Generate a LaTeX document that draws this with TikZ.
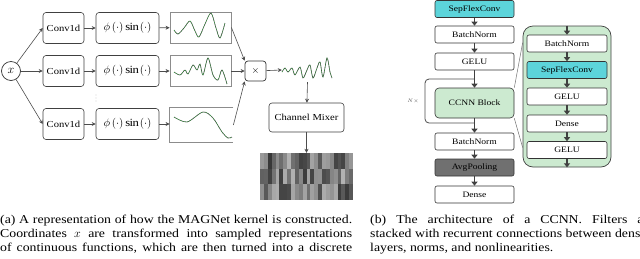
\documentclass[tikz,border=0pt]{standalone}
\usepackage{fontspec}
\setmainfont[FakeStretch=1.15]{Liberation Serif}
\usetikzlibrary{arrows.meta,calc}
\definecolor{flexcyan}{RGB}{92,212,218}
\definecolor{blockgreen}{RGB}{204,234,208}
\definecolor{poolgray}{RGB}{112,112,112}
\definecolor{wavegreen}{RGB}{60,170,70}
\begin{document}
\begin{tikzpicture}[x=1pt, y=-1pt,
    fbox/.style={draw=black!75, fill=white, rounded corners=3pt, line width=0.6pt, minimum height=31pt, inner sep=0pt, font=\fontsize{9.2}{11}\selectfont},
    plotbox/.style={draw=black!45, line width=0.8pt, minimum width=61pt, minimum height=31pt, inner sep=0pt},
    larr/.style={-{Stealth[length=4pt,width=4pt]}, draw=black!70, line width=0.6pt},
    layer/.style={draw=black!80, fill=white, rounded corners=2pt, line width=0.6pt, minimum width=79pt, minimum height=17pt, inner sep=0pt, font=\fontsize{8.3}{10}\selectfont},
    rarr/.style={-{Triangle[length=4pt,width=6pt]}, draw=black!75, line width=1.4pt},
    wave/.style={black!75, line width=0.6pt, postaction={draw=wavegreen, line width=0.5pt, dash pattern=on 1.2pt off 1.2pt}},
    zoomline/.style={draw=black!55, line width=0.5pt},
    loopline/.style={draw=black!70, line width=0.8pt, rounded corners=4pt},
    caption/.style={anchor=north west, inner sep=0pt, align=left, font=\fontsize{12}{14}\selectfont}
]
\useasboundingbox (0,0) rectangle (640,258);
\clip (0,0) rectangle (640,258);

% MAGNet kernel
\node[draw=black!80, circle, minimum size=19pt, inner sep=0pt, line width=0.7pt, font=\large] (x) at (11,71) {$x$};
\foreach \i/\y in {1/28,2/71,3/124} {
  \node[fbox, minimum width=41pt] (c\i) at (63.5,\y) {Conv1d};
  \node[fbox, minimum width=63pt, font=\fontsize{11}{13}\selectfont] (p\i) at (127.5,\y) {$\phi\left(\cdot\right)\sin\left(\cdot\right)$};
  \draw[larr] (x) -- (c\i.west);
  \draw[larr] (c\i) -- (p\i);
}
\foreach \d in {95,98,101}
  \fill[black!50] (96,\d) circle (0.45pt);

\node[plotbox] (f1) at (200.5,27.5) {};
\node[plotbox] (f2) at (200.5,71) {};
\node[plotbox, draw=none, minimum width=63pt, minimum height=34pt] (f3) at (201.5,125) {};
\draw[black!45, line width=0.8pt] (f3.north east) -- (f3.north west) -- (f3.south west) -- (f3.south east);
\draw[wave] plot[smooth] coordinates {(174,30) (178,34) (184,28) (190,21) (195,31) (199,37) (205,24) (211,13) (216,28) (220,38) (225,23)};
\draw[wave] plot[smooth] coordinates {(174,72) (180,75) (185,70) (188,74) (193,65) (197,70) (200,64) (203,75) (208,58) (213,75) (218,80) (222,70) (227,84)};
\draw[wave] plot[smooth] coordinates {(174,117) (187,122) (203,112) (213,118) (222,132) (228,138) (232,137)};
\draw[larr] (p1) -- (f1);
\draw[larr] (p2) -- (f2);
\draw[larr] (p3.east) -- (p3.east -| f3.west);

\node[draw=black!80, rounded corners=3pt, minimum width=21pt, minimum height=20pt, inner sep=0pt, line width=0.7pt] (mul) at (255.5,71) {$\times$};
\draw[larr] (f1.east) -- (mul.north west);
\draw[larr] (f2) -- (mul);
\draw[larr] (f3.east) -- (mul.south west);

\node[minimum width=51pt, minimum height=24pt, inner sep=0pt] (sig) at (307.5,70) {};
\draw[wave] plot[smooth] coordinates {(282,72) (285,68) (288,72) (292,68) (295,75) (300,67) (303,78) (307,70) (310,65) (313,78) (317,68) (320,62) (323,77) (327,58) (330,72) (332,78)};
\draw[larr] (mul) -- (sig.west);

\node[fbox, minimum width=75pt, minimum height=29pt] (mix) at (306.5,117.5) {Channel Mixer};
\draw[larr] (sig.south) -- (mix);

\pgfmathsetseed{11}
\foreach \r in {0,1,2}
  \foreach \c in {0,...,23} {
    \pgfmathrandominteger{\g}{30}{78}
    \fill[black!\g] ({260+\c*3.875},{153+\r*15.67}) rectangle ++(3.875,15.67);
  }
\node[minimum width=93pt, minimum height=47pt, inner sep=0pt] (heat) at (306.5,176.5) {};
\draw[larr] (mix) -- (heat);

% CCNN
\node[layer, fill=flexcyan] (sfc) at (474.5,9) {SepFlexConv};
\node[layer] (bn1) at (474.5,34.5) {BatchNorm};
\node[layer] (g1) at (474.5,61.5) {GELU};
\node[layer, fill=blockgreen, minimum height=30pt, rounded corners=4pt] (ccnn) at (474.5,103) {CCNN Block};
\node[layer] (bn2) at (474.5,141.5) {BatchNorm};
\node[layer, fill=poolgray] (pool) at (474.5,167.5) {AvgPooling};
\node[layer] (dns) at (474.5,194.5) {Dense};
\coordinate (lbot) at (474.5,123);
\coordinate (ltop) at (474.5,79);
\draw[loopline] (lbot) -| (425,101) |- (ltop);
\node[text=black!70, font=\tiny] (nx) at (413,101) {$N\times$};
\foreach \a/\b in {sfc/bn1, bn1/g1, g1/ccnn, ccnn/bn2, bn2/pool, pool/dns}
  \draw[rarr] (\a) -- (\b);

\node[draw=black!75, fill=blockgreen, rounded corners=10pt, line width=0.7pt, minimum width=88pt, minimum height=141pt] (blk) at (567,96.5) {};
\node[layer, minimum width=80pt] (ibn) at (567,43.5) {BatchNorm};
\node[layer, minimum width=80pt, fill=flexcyan] (isfc) at (567,70) {SepFlexConv};
\node[layer, minimum width=80pt] (ig1) at (567,96.5) {GELU};
\node[layer, minimum width=80pt] (idns) at (567,123.5) {Dense};
\node[layer, minimum width=80pt] (ig2) at (567,150) {GELU};
\draw[rarr] (blk.north) -- (ibn);
\foreach \a/\b in {ibn/isfc, isfc/ig1, ig1/idns, idns/ig2}
  \draw[rarr] (\a) -- (\b);
\draw[rarr] (ig2) -- (blk.south);
\draw[zoomline] (ccnn.north east) -- ($(blk.north west)!0.12!(blk.south west)$);
\draw[zoomline] (ccnn.south east) -- ($(blk.north west)!0.86!(blk.south west)$);

% captions
\node[caption] (capa) at (0,214.5) {\makebox[352pt][s]{(a) A representation of how the MAGNet kernel is constructed.}\\
  \makebox[352pt][s]{Coordinates $x$ are transformed into sampled representations}\\
  \makebox[352pt][s]{of continuous functions, which are then turned into a discrete}};
\node[caption] (capb) at (370,214.5) {\makebox[284pt][s]{(b) The architecture of a CCNN. Filters are}\\
  stacked with recurrent connections between dense\\
  layers, norms, and nonlinearities.};
\end{tikzpicture}
\end{document}
